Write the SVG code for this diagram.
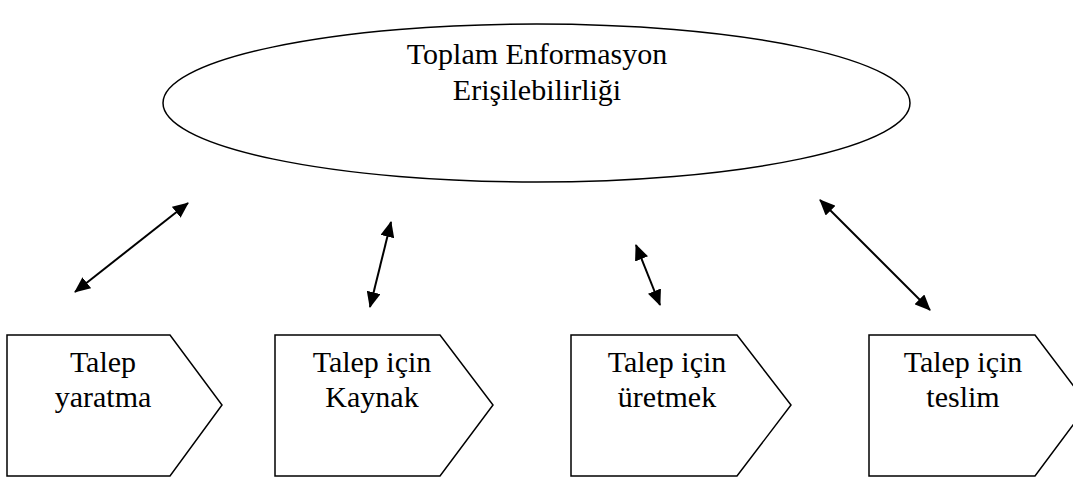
<svg xmlns="http://www.w3.org/2000/svg" width="1073" height="483" viewBox="0 0 1073 483">
<style>
.s{fill:#fff;stroke:#000;stroke-width:1.5}
.t{font-family:"Liberation Serif","Times New Roman",serif;font-size:30px;fill:#000;text-anchor:middle}
.c line{stroke:#000;stroke-width:2}
</style>
<defs>
<marker id="a" viewBox="0 0 16 14" refX="15" refY="7" markerWidth="16" markerHeight="14" orient="auto-start-reverse" markerUnits="userSpaceOnUse">
<path d="M0,0 L16,7 L0,14 z" fill="#000"/>
</marker>
</defs>
<rect width="1073" height="483" fill="#fff"/>
<g id="ellipse">
<ellipse class="s" cx="536.5" cy="103" rx="373.5" ry="79"/>
<text class="t" x="537" y="64">Toplam Enformasyon</text>
<text class="t" x="537" y="100">Erişilebilirliği</text>
</g>
<g id="n1">
<path class="s" d="M7,335 H170 L222,405 L170,476 H7 Z"/>
<text class="t" x="103" y="372">Talep</text>
<text class="t" x="103" y="407">yaratma</text>
</g>
<g id="n2">
<path class="s" d="M275,335 H440 L493,405 L440,476 H275 Z"/>
<text class="t" x="372" y="372">Talep için</text>
<text class="t" x="372" y="407">Kaynak</text>
</g>
<g id="n3">
<path class="s" d="M571,335 H737 L791,405 L737,476 H571 Z"/>
<text class="t" x="667" y="372">Talep için</text>
<text class="t" x="667" y="407">üretmek</text>
</g>
<g id="n4">
<path class="s" d="M869,335 H1035 L1088,405 L1035,476 H869 Z"/>
<text class="t" x="963" y="372">Talep için</text>
<text class="t" x="963" y="407">teslim</text>
</g>
<g class="c" id="connectors">
<line x1="75" y1="292" x2="188" y2="203" marker-start="url(#a)" marker-end="url(#a)"/>
<line x1="370" y1="307" x2="391" y2="222" marker-start="url(#a)" marker-end="url(#a)"/>
<line x1="636" y1="245" x2="660" y2="305" marker-start="url(#a)" marker-end="url(#a)"/>
<line x1="820" y1="200" x2="930" y2="310" marker-start="url(#a)" marker-end="url(#a)"/>
</g>
</svg>
